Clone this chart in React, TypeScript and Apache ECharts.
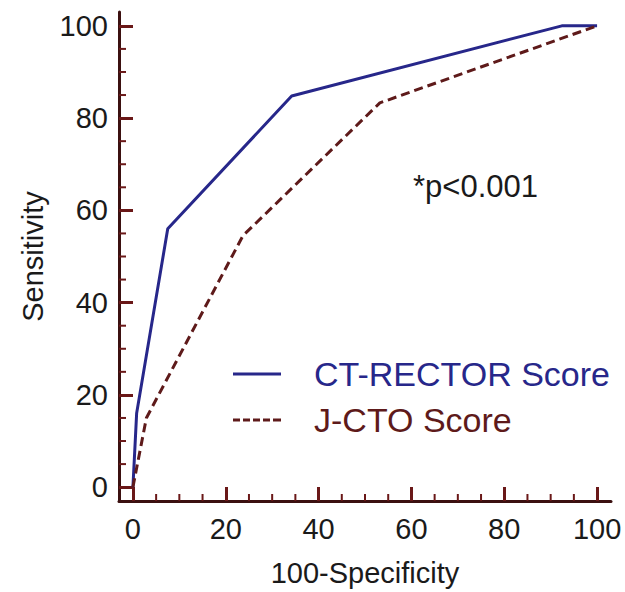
import React, { useEffect, useRef } from "react";
import * as echarts from "echarts";

const ctRectorX = [0, 0.8, 7.5, 34.2, 92.4, 100];
const ctRectorY = [0, 16, 56, 84.8, 100, 100];
const jctoX = [0, 2.9, 23.7, 53.2, 100];
const jctoY = [0, 15, 54.5, 83.3, 100];
const majorTicks = [0, 20, 40, 60, 80, 100];
const minorTicks = [5, 10, 15, 25, 30, 35, 45, 50, 55, 65, 70, 75, 85, 90, 95];
const axisMin = -3;
const axisMax = 103;
const seriesNames = ["CT-RECTOR Score", "J-CTO Score"];
const annotation = "*p<0.001";

const FONT = "Liberation Sans, Arial, sans-serif";
const AXIS_COLOR = "#3b1010";
const TICK_COLOR = "#6a1818";
const BLUE = "#27278a";
const RED = "#5e1a1a";
const MINOR_LEN = 7;

const SOLID_ICON = "path://M0,0h48v3h-48z";
const DASH_ICON =
  "path://M0,0h7v3h-7zM10,0h7v3h-7zM20,0h7v3h-7zM30,0h7v3h-7zM40,0h8v3h-8z";

export default function App() {
  const ref = useRef<HTMLDivElement>(null);
  useEffect(() => {
    document.body.style.margin = "0";
    const chart = echarts.init(ref.current!, null, { renderer: "svg" });
    const mainAxis = (isX: boolean) => ({
      type: "value",
      min: axisMin,
      max: axisMax,
      position: isX ? "bottom" : "left",
      axisLine: { show: true, onZero: false, lineStyle: { color: AXIS_COLOR, width: 3 } },
      axisTick: {
        show: true,
        inside: true,
        length: 14,
        customValues: majorTicks,
        lineStyle: { color: TICK_COLOR, width: 3 },
      },
      axisLabel: {
        show: true,
        customValues: majorTicks,
        fontSize: 29,
        fontFamily: FONT,
        color: "#1a1a1a",
        margin: isX ? 13 : 11,
      },
      splitLine: { show: false },
      name: isX ? "100-Specificity" : "Sensitivity",
      nameLocation: "middle",
      nameGap: isX ? 57 : 72,
      nameTextStyle: { fontSize: 29, fontFamily: FONT, color: "#1a1a1a" },
    });
    const annotationGraphic = {
      type: "text",
      left: 413,
      top: 171,
      style: { text: annotation, fontSize: 31, fontFamily: FONT, fill: "#1a1a1a" },
    };
    chart.setOption({
      animation: false,
      backgroundColor: "#ffffff",
      grid: { left: 119, right: 14, top: 12, bottom: 88, containLabel: false },
      xAxis: mainAxis(true),
      yAxis: mainAxis(false),
      legend: {
        orient: "vertical",
        left: 228,
        top: 352,
        itemWidth: 48,
        itemHeight: 3,
        itemGap: 12,
        data: [
          { name: seriesNames[0], icon: SOLID_ICON, textStyle: { color: BLUE } },
          { name: seriesNames[1], icon: DASH_ICON, textStyle: { color: RED } },
        ],
        textStyle: { fontSize: 34, fontFamily: FONT, padding: [0, 0, 0, 28] },
      },
      graphic: [annotationGraphic],
      series: [
        {
          name: seriesNames[0],
          type: "line",
          data: ctRectorX.map((x, i) => [x, ctRectorY[i]]),
          showSymbol: false,
          symbol: "none",
          lineStyle: { color: BLUE, width: 3 },
          itemStyle: { color: BLUE },
        },
        {
          name: seriesNames[1],
          type: "line",
          data: jctoX.map((x, i) => [x, jctoY[i]]),
          showSymbol: false,
          symbol: "none",
          lineStyle: { color: RED, width: 3, type: [9, 5] },
          itemStyle: { color: RED },
        },
      ],
    });

    // Minor ticks, positioned through the chart's own axis scales
    const tickGraphics: any[] = [];
    minorTicks.forEach((v) => {
      const px = chart.convertToPixel({ gridIndex: 0 }, [v, axisMin]) as number[];
      if (px) {
        tickGraphics.push({
          type: "line",
          silent: true,
          z: 10,
          shape: { x1: px[0], y1: px[1], x2: px[0], y2: px[1] - MINOR_LEN },
          style: { stroke: TICK_COLOR, lineWidth: 2 },
        });
      }
      const py = chart.convertToPixel({ gridIndex: 0 }, [axisMin, v]) as number[];
      if (py) {
        tickGraphics.push({
          type: "line",
          silent: true,
          z: 10,
          shape: { x1: py[0], y1: py[1], x2: py[0] + MINOR_LEN, y2: py[1] },
          style: { stroke: TICK_COLOR, lineWidth: 2 },
        });
      }
    });
    chart.setOption({ graphic: [annotationGraphic, ...tickGraphics] });

    return () => chart.dispose();
  }, []);
  return <div ref={ref} style={{ width: 625, height: 592 }} />;
}
